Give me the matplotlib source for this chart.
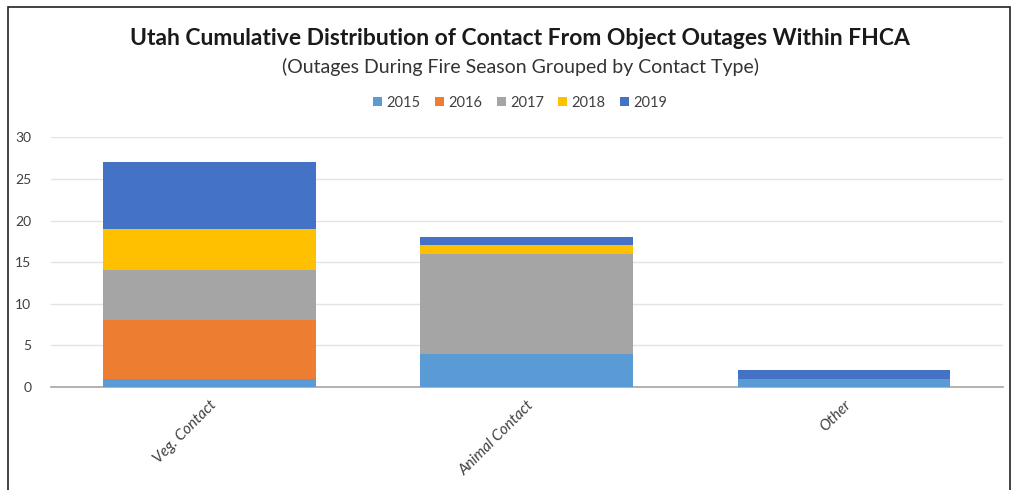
import matplotlib
matplotlib.use("Agg")
import matplotlib.pyplot as plt
from matplotlib.patches import Rectangle
import numpy as np

plt.rcParams['font.family'] = ['Lato', 'DejaVu Sans']

categories = ["Veg. Contact", "Animal Contact", "Other"]
years = ["2015", "2016", "2017", "2018", "2019"]
v2015 = [1, 4, 1]
v2016 = [7, 0, 0]
v2017 = [6, 12, 0]
v2018 = [5, 1, 0]
v2019 = [8, 1, 1]
series = [v2015, v2016, v2017, v2018, v2019]
colors = ["#5B9BD5", "#ED7D31", "#A5A5A5", "#FFC000", "#4472C4"]
yticks = [0, 5, 10, 15, 20, 25, 30]

fig = plt.figure(figsize=(10.16, 4.90), dpi=100)
ax = fig.add_axes([0.050, 0.210, 0.937, 0.510])

x = np.arange(len(categories))
bottom = np.zeros(len(categories))
handles = []
for yr, vals, c in zip(years, series, colors):
    b = ax.bar(x, vals, width=0.67, bottom=bottom, color=c, label=yr, zorder=3)
    handles.append(b)
    bottom += np.array(vals)

ax.set_xlim(-0.5, 2.5)
ax.set_ylim(0, 30)
ax.set_yticks(yticks)
ax.yaxis.grid(True, color="#e3e3e3", linewidth=1, zorder=0)
ax.set_axisbelow(True)
for s in ["top", "right", "left"]:
    ax.spines[s].set_visible(False)
ax.spines["bottom"].set_color("#a6a6a6")
ax.spines["bottom"].set_linewidth(1.2)
ax.tick_params(axis="y", length=0, labelsize=10, labelcolor="#404040", pad=14)
ax.tick_params(axis="x", length=0, labelsize=11, labelcolor="#404040", pad=8)
ax.set_xticks(x)
ax.set_xticklabels(categories, rotation=45, ha="right", rotation_mode="anchor", style="italic")

fig.text(0.512, 0.922, "Utah Cumulative Distribution of Contact From Object Outages Within FHCA",
         ha="center", va="center", fontsize=16.5, fontweight="bold", color="#1a1a1a")
fig.text(0.512, 0.863, "(Outages During Fire Season Grouped by Contact Type)",
         ha="center", va="center", fontsize=14, color="#333333")

leg = fig.legend(handles=handles, labels=years, loc="center", bbox_to_anchor=(0.512, 0.790),
                 ncol=5, frameon=False, fontsize=10.5, handlelength=0.6, handleheight=0.6,
                 handletextpad=0.3, columnspacing=1.0, labelcolor="#404040")

fig.patches.append(Rectangle((0.008, -0.01), 0.986, 0.996, transform=fig.transFigure,
                             fill=False, edgecolor="#222222", linewidth=1.2))

fig.savefig("out.png", dpi=100)
